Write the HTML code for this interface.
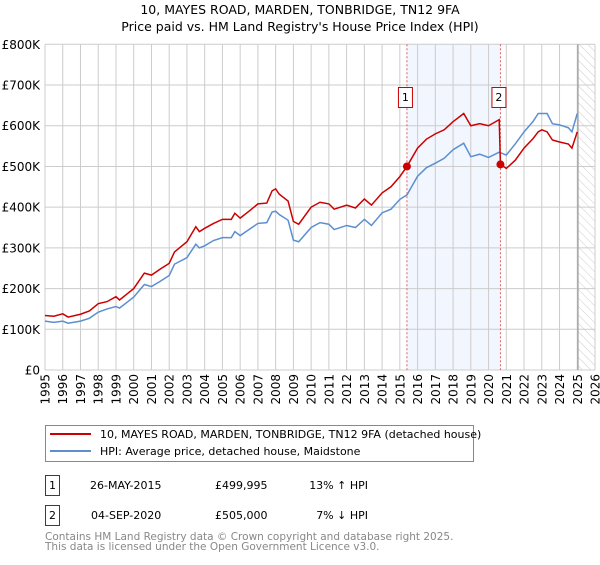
<!DOCTYPE html>
<html><head><meta charset="utf-8"><style>
body{margin:0;background:#fff;font-family:"Liberation Sans","DejaVu Sans",sans-serif;}
svg text{font-family:"DejaVu Sans","Liberation Sans",sans-serif;}
</style></head><body>
<svg id="chart" width="600" height="560" viewBox="0 0 600 560">
<defs><pattern id="hatch" width="6" height="6" patternUnits="userSpaceOnUse" patternTransform="rotate(-45)"><line x1="0" y1="0" x2="0" y2="6" stroke="#ccc" stroke-width="1"/></pattern></defs>
<text x="300" y="14" text-anchor="middle" font-size="12.5">10, MAYES ROAD, MARDEN, TONBRIDGE, TN12 9FA</text>
<text x="300" y="31" text-anchor="middle" font-size="12.5">Price paid vs. HM Land Registry's House Price Index (HPI)</text>
<g id="grid"></g>
<g id="marks"></g>
<g id="legend">
<rect x="45.5" y="425.5" width="428" height="36" fill="#fff" stroke="#888"/>
<line x1="50" y1="434" x2="91" y2="434" stroke="#cc0000" stroke-width="2"/>
<text x="100" y="438" font-size="11">10, MAYES ROAD, MARDEN, TONBRIDGE, TN12 9FA (detached house)</text>
<line x1="50" y1="451" x2="91" y2="451" stroke="#5b8fd0" stroke-width="2"/>
<text x="100" y="455" font-size="11">HPI: Average price, detached house, Maidstone</text>
</g>
<g font-size="11">
<rect x="45.5" y="475.5" width="14" height="20" fill="#fff" stroke="#cc0000"/>
<text x="52.5" y="489" text-anchor="middle">1</text>
<text x="90" y="489">26-MAY-2015</text>
<text x="215" y="489">£499,995</text>
<text x="368" y="489" text-anchor="end">13% ↑ HPI</text>
<rect x="45.5" y="505.5" width="14" height="20" fill="#fff" stroke="#cc0000"/>
<text x="52.5" y="519" text-anchor="middle">2</text>
<text x="91" y="519">04-SEP-2020</text>
<text x="215" y="519">£505,000</text>
<text x="368" y="519" text-anchor="end">7% ↓ HPI</text>
</g>
<text x="45" y="540" font-size="10.5" fill="#888">Contains HM Land Registry data © Crown copyright and database right 2025.</text>
<text x="45" y="550" font-size="10.5" fill="#888">This data is licensed under the Open Government Licence v3.0.</text>
</svg>
<script>
const hpiYears=[1995.0,1995.5,1996.0,1996.3,1997.0,1997.5,1998.0,1998.5,1999.0,1999.2,2000.0,2000.6,2001.0,2001.5,2002.0,2002.3,2003.0,2003.5,2003.7,2004.0,2004.5,2005.0,2005.5,2005.7,2006.0,2006.5,2007.0,2007.5,2007.8,2008.0,2008.2,2008.7,2009.0,2009.3,2010.0,2010.5,2011.0,2011.3,2012.0,2012.5,2013.0,2013.4,2014.0,2014.5,2015.0,2015.4,2016.0,2016.5,2017.0,2017.5,2018.0,2018.6,2019.0,2019.5,2020.0,2020.6,2021.0,2021.5,2022.0,2022.5,2022.8,2023.0,2023.3,2023.6,2024.0,2024.5,2024.7,2025.0];
const hpiValues=[120,117,120,115,120,127,142,150,156,152,179,210,205,218,232,260,276,309,300,305,318,325,325,340,330,345,360,362,388,390,382,368,319,315,350,362,358,345,355,350,370,355,386,395,419,430,476,497,508,520,541,557,524,530,522,535,528,555,585,610,630,630,630,605,602,595,585,630];
const priceYears=[1995.0,1995.5,1996.0,1996.3,1997.0,1997.5,1998.0,1998.5,1999.0,1999.2,2000.0,2000.6,2001.0,2001.5,2002.0,2002.3,2003.0,2003.5,2003.7,2004.0,2004.5,2005.0,2005.5,2005.7,2006.0,2006.5,2007.0,2007.5,2007.8,2008.0,2008.2,2008.7,2009.0,2009.3,2010.0,2010.5,2011.0,2011.3,2012.0,2012.5,2013.0,2013.4,2014.0,2014.5,2015.0,2015.4,2016.0,2016.5,2017.0,2017.5,2018.0,2018.6,2019.0,2019.5,2020.0,2020.6,2020.67,2021.0,2021.5,2022.0,2022.5,2022.8,2023.0,2023.3,2023.6,2024.0,2024.5,2024.7,2025.0];
const priceValues=[134,132,138,130,137,145,163,168,180,172,200,238,233,248,262,290,315,352,340,348,360,370,370,385,373,390,408,410,440,445,432,415,365,358,400,412,408,395,405,398,420,405,435,450,475,500,545,567,580,590,610,630,600,605,600,615,505,495,515,545,568,585,590,585,565,560,555,545,585];
const saleYears=[2015.4,2020.67];
const saleValues=[499.995,505];
const saleLabels=["1","2"];
const yTicks=[0,100,200,300,400,500,600,700,800];
const yTickLabels=["£0","£100K","£200K","£300K","£400K","£500K","£600K","£700K","£800K"];
const xTicks=[1995,1996,1997,1998,1999,2000,2001,2002,2003,2004,2005,2006,2007,2008,2009,2010,2011,2012,2013,2014,2015,2016,2017,2018,2019,2020,2021,2022,2023,2024,2025,2026];
const dataEnd=2025.04;

const X0=45,X1=595,Y0=370,Y1=44.3;
const xs=y=>X0+(y-1995)/(2026-1995)*(X1-X0);
const ys=v=>Y0-v/800*(Y0-Y1);
const NS="http://www.w3.org/2000/svg";
function mk(tag,attrs,parent){const e=document.createElementNS(NS,tag);for(const k in attrs)e.setAttribute(k,attrs[k]);parent.appendChild(e);return e;}
const grid=document.getElementById('grid'),marks=document.getElementById('marks');
const sh=mk('rect',{x:xs(saleYears[0]),y:Y1,width:xs(saleYears[1])-xs(saleYears[0]),height:Y0-Y1,fill:'#f2f6fe'},grid);


const ht=mk('rect',{x:xs(dataEnd),y:Y1,width:X1-xs(dataEnd),height:Y0-Y1,fill:'url(#hatch)'},grid);


yTicks.forEach((t,i)=>{
  const l=mk('line',{x1:X0,x2:X1,y1:ys(t),y2:ys(t),stroke:'#ccc','stroke-width':1},grid);
  
  
  const tx=mk('text',{x:40,y:ys(t)+4.5,'text-anchor':'end','font-size':12},grid);
  tx.textContent=yTickLabels[i];
  
  
});
xTicks.forEach(t=>{
  const l=mk('line',{x1:xs(t),x2:xs(t),y1:Y1,y2:Y0,stroke:'#ccc','stroke-width':1},grid);
  
  
  const tx=mk('text',{x:0,y:0,'text-anchor':'end','font-size':12,transform:`translate(${xs(t)+4.5},374) rotate(-90)`},grid);
  tx.textContent=t;
  
  
});
const el=mk('line',{x1:xs(dataEnd),x2:xs(dataEnd),y1:Y1,y2:Y0,stroke:'#999','stroke-width':1.2},grid);


saleYears.forEach((y,i)=>{
  const l=mk('line',{x1:xs(y),x2:xs(y),y1:Y1,y2:Y0,stroke:'#e06060','stroke-width':1,'stroke-dasharray':'2,2'},grid);
  
  
});
const hp=mk('polyline',{points:hpiYears.map((y,i)=>xs(y)+','+ys(hpiValues[i])).join(' '),fill:'none',stroke:'#5b8fd0','stroke-width':1.5},marks);


const pp=mk('polyline',{points:priceYears.map((y,i)=>xs(y)+','+ys(priceValues[i])).join(' '),fill:'none',stroke:'#cc0000','stroke-width':1.5},marks);


saleYears.forEach((y,i)=>{
  const c=mk('circle',{cx:xs(y),cy:ys(saleValues[i]),r:4,fill:'#cc0000'},marks);
  
  
  const r=mk('rect',{x:xs(y)-8.5,y:87.5,width:14,height:20,fill:'#fff',stroke:'#cc0000'},marks);
  
  
  const t=mk('text',{x:xs(y)-1.5,y:101,'text-anchor':'middle','font-size':11},marks);
  t.textContent=saleLabels[i];
  
  
});
</script>
</body></html>
